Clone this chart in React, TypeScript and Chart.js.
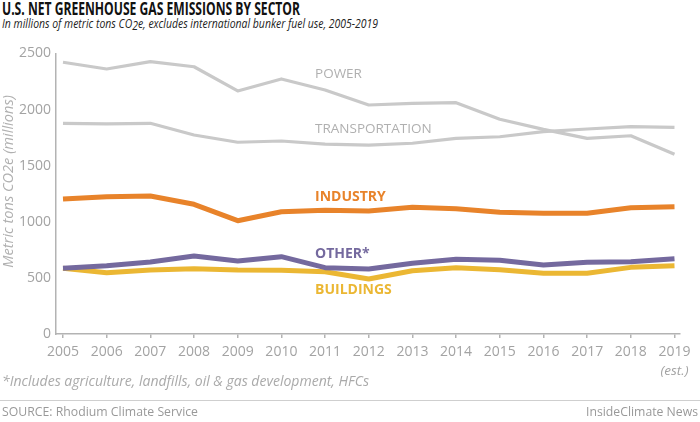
import React, { useEffect, useRef } from 'react';
import { Chart, registerables } from 'chart.js';

Chart.register(...registerables);

// ---------- data ----------
const years = [2005, 2006, 2007, 2008, 2009, 2010, 2011, 2012, 2013, 2014, 2015, 2016, 2017, 2018, 2019];
const power = [2422, 2362, 2427, 2382, 2166, 2273, 2175, 2041, 2056, 2062, 1914, 1824, 1744, 1767, 1602];
const transportation = [1878, 1872, 1878, 1774, 1709, 1720, 1693, 1684, 1700, 1744, 1758, 1803, 1827, 1848, 1842];
const industry = [1203, 1224, 1230, 1156, 1010, 1090, 1103, 1096, 1129, 1117, 1085, 1076, 1076, 1126, 1135];
const other = [586, 609, 642, 695, 651, 689, 591, 579, 630, 666, 657, 615, 639, 644, 671];
const buildings = [586, 546, 570, 582, 570, 568, 555, 490, 564, 591, 573, 541, 541, 594, 609];
const yTicks = [0, 500, 1000, 1500, 2000, 2500];
const seriesNames = ['POWER', 'TRANSPORTATION', 'INDUSTRY', 'OTHER*', 'BUILDINGS'];
const yTitle = 'Metric tons CO2e (millions)';

// ---------- styles ----------
const GRAY_LINE = '#c9c9c9';
const ORANGE = '#e8832a';
const PURPLE = '#74699e';
const YELLOW = '#ebb733';
const AXIS = '#b3b3b3';
const TICK_TEXT = '#a3a3a3';
const FONT = '"Open Sans", "DejaVu Sans", sans-serif';

const labelSpecs = [
  { name: seriesNames[0], x: 2010.77, y: 2317, color: '#b0b0b0', bold: false },
  { name: seriesNames[1], x: 2010.77, y: 1827, color: '#b0b0b0', bold: false },
  { name: seriesNames[2], x: 2010.77, y: 1224, color: ORANGE, bold: true },
  { name: seriesNames[3], x: 2010.77, y: 713, color: PURPLE, bold: true },
  { name: seriesNames[4], x: 2010.77, y: 392, color: YELLOW, bold: true },
];

function measure(text: string, font: string): number {
  const c = document.createElement('canvas').getContext('2d')!;
  c.font = font;
  return c.measureText(text).width;
}

function FitText(props: {
  text: React.ReactNode;
  plain: string;
  font: string;
  size: number;
  left?: number;
  right?: number;
  top: number;
  width: number;
  color: string;
}) {
  const w = measure(props.plain, props.font);
  const k = w > 0 ? props.width / w : 1;
  const style: React.CSSProperties = {
    position: 'absolute',
    top: props.top,
    font: props.font,
    lineHeight: props.size + 'px',
    whiteSpace: 'nowrap',
    color: props.color,
    transform: `scaleX(${k})`,
  };
  if (props.right !== undefined) {
    style.right = props.right;
    style.transformOrigin = 'right top';
  } else {
    style.left = props.left;
    style.transformOrigin = 'left top';
  }
  return <div style={style}>{props.text}</div>;
}

const labelPlugin = {
  id: 'seriesLabels',
  afterDatasetsDraw(chart: any) {
    const { ctx, scales } = chart;
    const xs = scales.x;
    const ys = scales.y;
    ctx.save();
    ctx.textBaseline = 'middle';
    ctx.textAlign = 'left';
    for (const l of labelSpecs) {
      ctx.font = `${l.bold ? '700' : '400'} ${l.bold ? 14 : 13.5}px ${FONT}`;
      ctx.fillStyle = l.color;
      ctx.fillText(l.name, xs.getPixelForValue(l.x), ys.getPixelForValue(l.y));
    }
    // (est.) under 2019
    ctx.font = `italic 400 13.5px ${FONT}`;
    ctx.fillStyle = TICK_TEXT;
    ctx.textAlign = 'center';
    ctx.fillText('(est.)', xs.getPixelForValue(2019), chart.chartArea.bottom + 37);
    // y-axis title
    ctx.save();
    ctx.translate(9, ys.getPixelForValue(1360));
    ctx.rotate(-Math.PI / 2);
    ctx.font = `italic 400 14.6px ${FONT}`;
    ctx.fillStyle = '#b0b0b0';
    ctx.textAlign = 'center';
    ctx.textBaseline = 'middle';
    ctx.fillText(yTitle, 0, 0);
    ctx.restore();
    ctx.restore();
  },
};

function LineChart() {
  const ref = useRef<HTMLCanvasElement>(null);
  useEffect(() => {
    if (!ref.current) return;
    const mk = (data: number[], color: string, width: number, order: number) => ({
      data: years.map((y, i) => ({ x: y, y: data[i] })),
      borderColor: color,
      backgroundColor: color,
      borderWidth: width,
      pointRadius: 0,
      tension: 0,
      borderJoinStyle: 'round' as const,
      borderCapStyle: 'butt' as const,
      order,
    });
    const chart = new Chart(ref.current, {
      type: 'line',
      data: {
        datasets: [
          { label: seriesNames[0], ...mk(power, GRAY_LINE, 3.2, 5) },
          { label: seriesNames[1], ...mk(transportation, GRAY_LINE, 3.2, 4) },
          { label: seriesNames[2], ...mk(industry, ORANGE, 5, 3) },
          { label: seriesNames[4], ...mk(buildings, YELLOW, 5, 2) },
          { label: seriesNames[3], ...mk(other, PURPLE, 5, 1) },
        ],
      },
      options: {
        animation: false,
        responsive: false,
        maintainAspectRatio: false,
        devicePixelRatio: 1,
        layout: { padding: { top: 53.5, right: 20, left: 0, bottom: 0 } },
        plugins: { legend: { display: false }, tooltip: { enabled: false }, title: { display: false } },
        scales: {
          x: {
            type: 'linear',
            min: 2004.84,
            max: 2019.126,
            afterBuildTicks: (s: any) => {
              s.ticks = years.map((v) => ({ value: v }));
            },
            afterFit: (s: any) => {
              s.height = 88;
            },
            grid: { display: true, drawOnChartArea: false, drawTicks: true, tickLength: 4, color: AXIS, lineWidth: 1.5 },
            border: { display: true, color: AXIS, width: 1.5 },
            ticks: {
              autoSkip: false,
              maxRotation: 0,
              padding: 6,
              color: TICK_TEXT,
              font: { family: FONT, size: 14 },
              callback: (v: any) => String(v),
            },
          },
          y: {
            min: 0,
            max: 2500,
            afterBuildTicks: (s: any) => {
              s.ticks = yTicks.map((v) => ({ value: v }));
            },
            afterFit: (s: any) => {
              s.width = 56;
            },
            grid: { display: false, drawTicks: false },
            border: { display: true, color: AXIS, width: 1.5 },
            ticks: {
              padding: 5,
              color: TICK_TEXT,
              font: { family: FONT, size: 14 },
              callback: (v: any) => String(v),
            },
            title: { display: false },
          },
        },
      },
      plugins: [labelPlugin],
    });
    return () => chart.destroy();
  }, []);
  return <canvas ref={ref} width={700} height={422} style={{ position: 'absolute', left: 0, top: 0, width: 700, height: 422 }} />;
}

export default function App() {
  return (
    <div style={{ position: 'fixed', left: 0, top: 0, width: 700, height: 422, background: '#fff', overflow: 'hidden' }}>
      <FitText
        text="U.S. NET GREENHOUSE GAS EMISSIONS BY SECTOR"
        plain="U.S. NET GREENHOUSE GAS EMISSIONS BY SECTOR"
        font={`700 17px ${FONT}`}
        size={17}
        left={2}
        top={0.3}
        width={298}
        color="#111"
      />
      <FitText
        text={
          <>
            In millions of metric tons CO<span style={{ position: 'relative', top: 2 }}>2</span>e, excludes international bunker fuel use, 2005-2019
          </>
        }
        plain="In millions of metric tons CO2e, excludes international bunker fuel use, 2005-2019"
        font={`italic 400 12.5px ${FONT}`}
        size={12.5}
        left={2}
        top={18.3}
        width={376}
        color="#222"
      />
      <LineChart />
      <FitText
        text="*Includes agriculture, landfills, oil & gas development, HFCs"
        plain="*Includes agriculture, landfills, oil & gas development, HFCs"
        font={`italic 400 14px ${FONT}`}
        size={14}
        left={2}
        top={373.6}
        width={367}
        color="#aaa"
      />
      <div style={{ position: 'absolute', left: 0, top: 400, width: 700, height: 1, background: '#cfcfcf' }} />
      <FitText
        text="SOURCE: Rhodium Climate Service"
        plain="SOURCE: Rhodium Climate Service"
        font={`400 13px ${FONT}`}
        size={13}
        left={2}
        top={405.2}
        width={196}
        color="#999"
      />
      <FitText
        text="InsideClimate News"
        plain="InsideClimate News"
        font={`400 13px ${FONT}`}
        size={13}
        right={2}
        top={405.2}
        width={112}
        color="#999"
      />
    </div>
  );
}
